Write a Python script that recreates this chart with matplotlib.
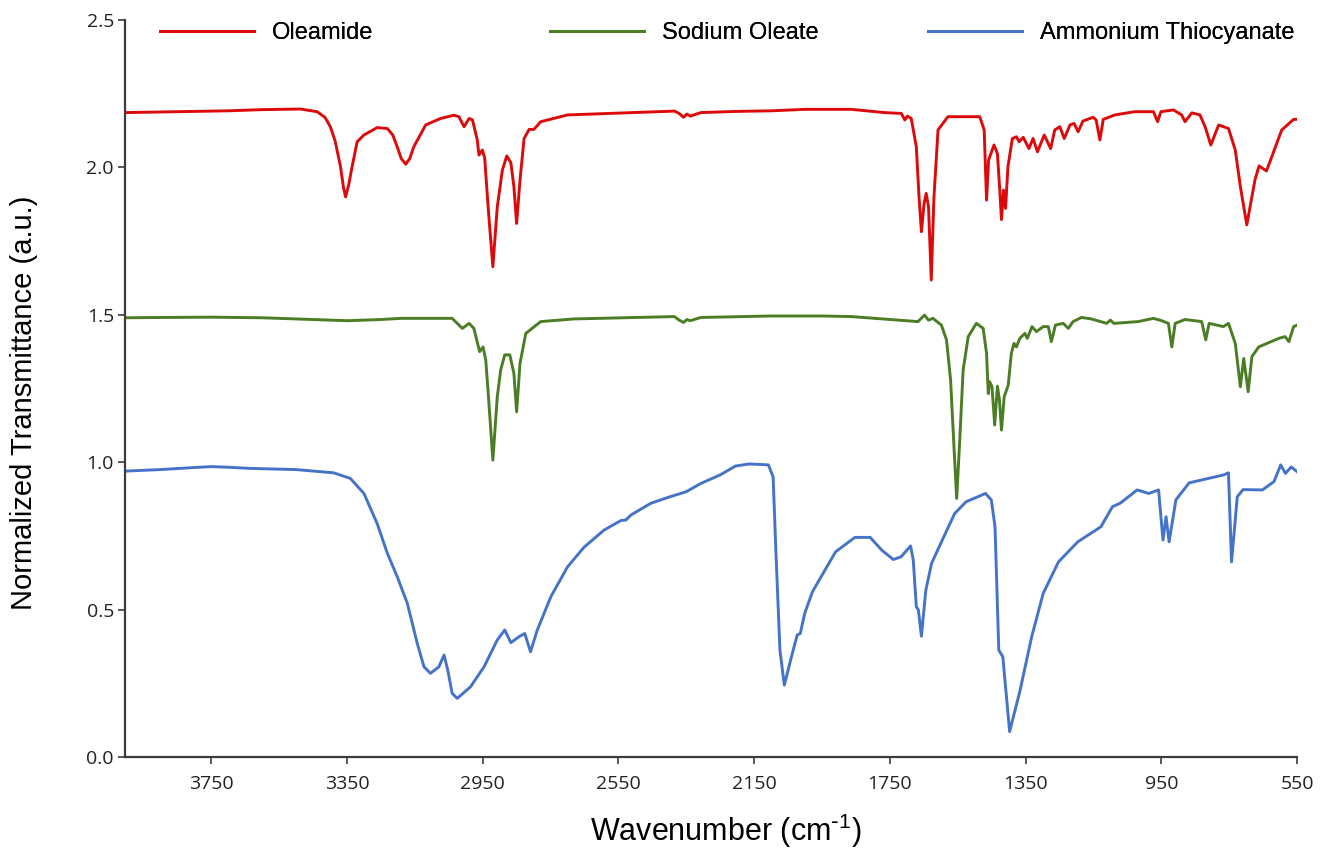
import numpy as np
import matplotlib
matplotlib.use('Agg')
from matplotlib import pyplot as plt

# values (wavenumber, normalized transmittance)
oleamide_wn = [4000, 3900, 3800, 3700, 3600, 3487, 3438, 3415, 3399, 3385, 3369, 3360, 3354, 3345, 3335,
               3320, 3300, 3261, 3231, 3215, 3202, 3190, 3177, 3165, 3153, 3118, 3074, 3035, 3020, 3005,
               2990, 2980, 2966, 2961, 2951, 2944, 2934, 2920, 2907, 2892, 2879, 2867, 2858, 2850, 2840,
               2828, 2813, 2799, 2779, 2700, 2503, 2385, 2371, 2358, 2348, 2338, 2307, 2200, 2100, 2000,
               1864, 1766, 1716, 1706, 1698, 1687, 1672, 1664, 1657, 1649, 1643, 1636, 1628, 1620, 1608,
               1579, 1485, 1472, 1465, 1459, 1443, 1433, 1426, 1421, 1415, 1409, 1402, 1389, 1377, 1369,
               1357, 1340, 1328, 1315, 1295, 1276, 1264, 1249, 1236, 1219, 1207, 1195, 1181, 1151, 1142,
               1131, 1121, 1087, 1028, 973, 961, 951, 914, 890, 880, 860, 836, 821, 804, 781,
               752, 732, 717, 698, 674, 662, 640, 595, 560, 550]
oleamide_t = [2.186, 2.188, 2.190, 2.192, 2.196, 2.198, 2.189, 2.170, 2.138, 2.090, 2.002, 1.930, 1.900, 1.940, 2.002,
              2.087, 2.110, 2.135, 2.132, 2.110, 2.070, 2.030, 2.011, 2.030, 2.070, 2.144, 2.166, 2.177, 2.172, 2.138,
              2.166, 2.161, 2.093, 2.042, 2.059, 2.031, 1.866, 1.663, 1.866, 1.991, 2.039, 2.016, 1.935, 1.810, 1.957,
              2.098, 2.129, 2.129, 2.155, 2.178, 2.186, 2.191, 2.183, 2.170, 2.181, 2.174, 2.186, 2.190, 2.192, 2.197,
              2.197, 2.186, 2.183, 2.161, 2.174, 2.166, 2.070, 1.900, 1.782, 1.878, 1.912, 1.866, 1.618, 1.900, 2.127,
              2.172, 2.172, 2.127, 1.889, 2.025, 2.076, 2.047, 1.923, 1.823, 1.923, 1.861, 2.002, 2.098, 2.104, 2.087,
              2.102, 2.064, 2.098, 2.053, 2.110, 2.064, 2.127, 2.138, 2.098, 2.144, 2.149, 2.121, 2.157, 2.170, 2.161,
              2.093, 2.163, 2.178, 2.189, 2.189, 2.155, 2.189, 2.195, 2.178, 2.155, 2.185, 2.178, 2.138, 2.076, 2.144,
              2.132, 2.059, 1.935, 1.805, 1.957, 2.005, 1.988, 2.127, 2.163, 2.163]

oleate_wn = [4000, 3900, 3750, 3600, 3450, 3350, 3250, 3192, 3040, 3010, 2990, 2976, 2959, 2949, 2941,
             2934, 2920, 2907, 2897, 2885, 2870, 2858, 2850, 2840, 2823, 2779, 2681, 2385, 2371, 2358,
             2348, 2338, 2307, 2100, 1950, 1864, 1667, 1648, 1636, 1623, 1598, 1583, 1571, 1561, 1553,
             1544, 1534, 1519, 1495, 1475, 1465, 1460, 1456, 1449, 1441, 1433, 1427, 1421, 1413, 1401,
             1392, 1384, 1377, 1367, 1352, 1345, 1331, 1318, 1298, 1283, 1274, 1262, 1239, 1224, 1210,
             1185, 1156, 1111, 1100, 1090, 1018, 973, 949, 929, 919, 909, 880, 831, 819, 809,
             767, 752, 732, 717, 707, 694, 683, 663, 604, 585, 574, 560, 550]
oleate_t = [1.490, 1.491, 1.492, 1.490, 1.484, 1.480, 1.484, 1.488, 1.488, 1.454, 1.471, 1.454, 1.375, 1.391, 1.347,
            1.239, 1.007, 1.222, 1.313, 1.364, 1.364, 1.301, 1.171, 1.335, 1.437, 1.477, 1.486, 1.494, 1.482, 1.474,
            1.484, 1.480, 1.491, 1.496, 1.496, 1.494, 1.477, 1.499, 1.482, 1.488, 1.465, 1.415, 1.279, 1.052, 0.877,
            1.075, 1.313, 1.426, 1.471, 1.454, 1.369, 1.233, 1.273, 1.256, 1.126, 1.258, 1.211, 1.109, 1.222, 1.262,
            1.369, 1.403, 1.391, 1.420, 1.437, 1.420, 1.460, 1.443, 1.460, 1.460, 1.409, 1.465, 1.471, 1.454, 1.477,
            1.491, 1.486, 1.471, 1.482, 1.471, 1.477, 1.488, 1.480, 1.471, 1.391, 1.471, 1.484, 1.477, 1.415, 1.471,
            1.460, 1.471, 1.403, 1.256, 1.352, 1.239, 1.358, 1.391, 1.420, 1.426, 1.409, 1.460, 1.465]

thiocyanate_wn = [4000, 3900, 3800, 3750, 3700, 3635, 3500, 3389, 3340, 3300, 3261, 3231, 3202, 3172, 3143,
                  3123, 3104, 3079, 3064, 3053, 3040, 3025, 2986, 2946, 2907, 2885, 2867, 2843, 2826, 2809,
                  2789, 2749, 2700, 2651, 2592, 2543, 2528, 2513, 2454, 2400, 2350, 2307, 2250, 2205, 2165,
                  2108, 2094, 2086, 2074, 2061, 2040, 2023, 2014, 2001, 1978, 1910, 1853, 1808, 1774, 1740,
                  1717, 1689, 1681, 1672, 1666, 1657, 1644, 1627, 1593, 1559, 1525, 1468, 1451, 1440, 1429,
                  1417, 1397, 1366, 1332, 1298, 1253, 1196, 1128, 1094, 1071, 1021, 987, 958, 945, 936,
                  927, 907, 868, 766, 752, 743, 726, 709, 652, 618, 598, 584, 567, 550]
thiocyanate_t = [0.970, 0.975, 0.982, 0.985, 0.983, 0.979, 0.975, 0.964, 0.945, 0.894, 0.792, 0.691, 0.612, 0.521, 0.386,
                 0.306, 0.284, 0.306, 0.346, 0.295, 0.216, 0.199, 0.238, 0.306, 0.397, 0.431, 0.388, 0.408, 0.419, 0.357,
                 0.431, 0.544, 0.645, 0.712, 0.770, 0.802, 0.804, 0.821, 0.861, 0.882, 0.900, 0.928, 0.957, 0.987, 0.994,
                 0.991, 0.950, 0.702, 0.363, 0.244, 0.340, 0.414, 0.419, 0.487, 0.561, 0.696, 0.745, 0.745, 0.702, 0.670,
                 0.679, 0.716, 0.668, 0.510, 0.499, 0.410, 0.566, 0.657, 0.742, 0.826, 0.866, 0.894, 0.872, 0.781, 0.363,
                 0.340, 0.086, 0.227, 0.408, 0.555, 0.662, 0.730, 0.781, 0.849, 0.861, 0.906, 0.894, 0.906, 0.736, 0.815,
                 0.730, 0.872, 0.930, 0.957, 0.964, 0.662, 0.883, 0.907, 0.906, 0.934, 0.991, 0.962, 0.984, 0.968]

x_ticks = [3750, 3350, 2950, 2550, 2150, 1750, 1350, 950, 550]
y_ticks = [0.0, 0.5, 1.0, 1.5, 2.0, 2.5]

series = [
    (oleamide_wn, oleamide_t, '#dc0a0a', 'Oleamide'),
    (oleate_wn, oleate_t, '#4b7d24', 'Sodium Oleate'),
    (thiocyanate_wn, thiocyanate_t, '#4473c8', 'Ammonium Thiocyanate'),
]

plt.rcParams['mathtext.default'] = 'regular'

fig = plt.figure(figsize=(13.22, 8.55), dpi=100)
ax = fig.add_axes([0.0946, 0.1146, 0.8865, 0.862])

lines = []
for wn, t, color, label in series:
    ln, = ax.plot(wn, t, color=color, linewidth=2.1, label=label, solid_joinstyle='round')
    lines.append(ln)

ax.set_xlim(4004, 550)
ax.set_ylim(0, 2.5)
ax.set_xticks(x_ticks)
ax.set_yticks(y_ticks)
ax.set_yticklabels([f'{v:.1f}' for v in y_ticks])

spine_color = '#3c3c3c'
for side in ['top', 'right']:
    ax.spines[side].set_visible(False)
for side in ['left', 'bottom']:
    ax.spines[side].set_color(spine_color)
    ax.spines[side].set_linewidth(1.6)

ax.tick_params(axis='both', colors=spine_color, labelcolor='#222222', width=1.2, length=5, direction='out')
ax.tick_params(axis='x', pad=8)
ax.tick_params(axis='y', pad=3)
for lbl in ax.get_xticklabels() + ax.get_yticklabels():
    lbl.set_fontfamily('Open Sans')
    lbl.set_fontsize(14)

ax.set_xlabel(r'Wavenumber (cm$^{\text{-}1}$)', fontsize=22, family='Liberation Sans')
ax.set_ylabel('Normalized Transmittance (a.u.)', fontsize=21, family='Liberation Sans')
ax.xaxis.set_label_coords(0.513, -0.074)
ax.yaxis.set_label_coords(-0.074, 0.48)

# separate legend entries, spaced like the original
legend_x = [160 / 1322, 550 / 1322, 928 / 1322]
for ln, x in zip(lines, legend_x):
    leg = fig.legend(handles=[ln], loc='center left', bbox_to_anchor=(x, 1 - 33 / 855),
                     frameon=False, borderpad=0, borderaxespad=0, handlelength=4.0,
                     handletextpad=0.75, prop={'family': 'Liberation Sans', 'size': 17})
    fig.add_artist(leg)

fig.savefig('out.png', dpi=100)
